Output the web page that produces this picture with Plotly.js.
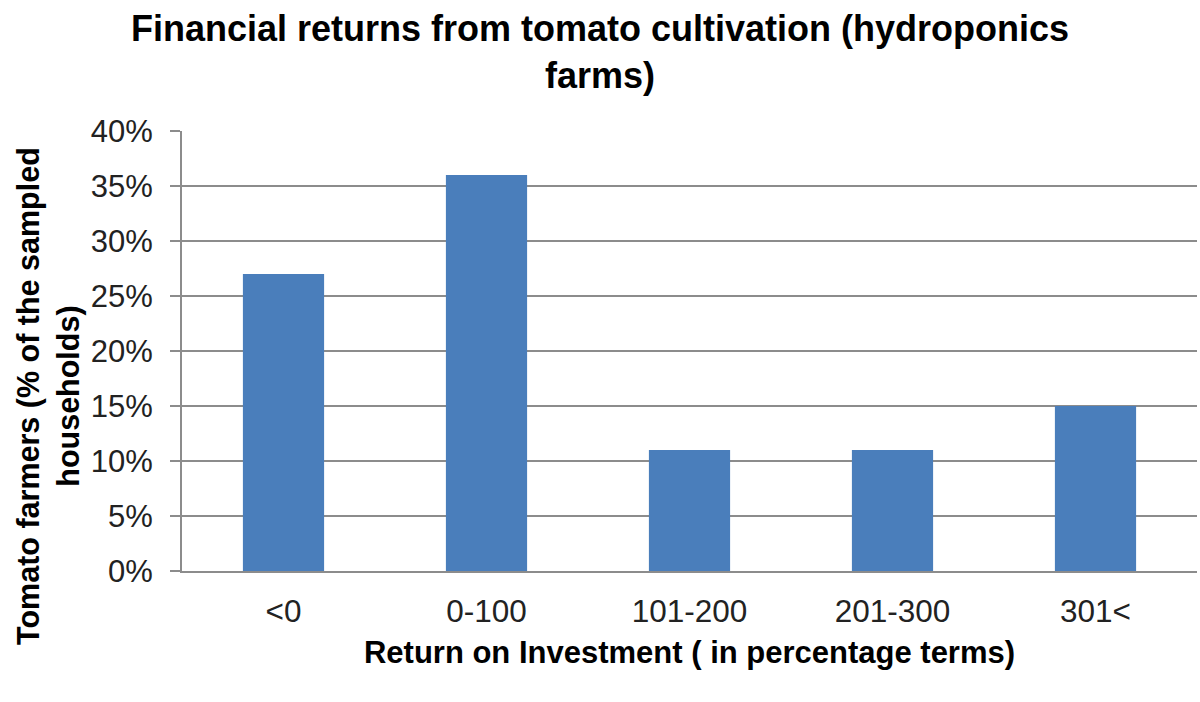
<!DOCTYPE html>
<html>
<head>
<meta charset="utf-8">
<script src="https://cdn.plot.ly/plotly-3.0.1.min.js"></script>
<style>
  html, body { margin: 0; padding: 0; background: #fff; }
  #chart { width: 1200px; height: 702px; }
</style>
</head>
<body>
<div id="chart"></div>
<script>
// Return-on-investment bands and share of sampled tomato households in each
const categories = ['<0', '0-100', '101-200', '201-300', '301<'];
const shares = [0.27, 0.36, 0.11, 0.11, 0.15];

const yTickVals = [0, 0.05, 0.10, 0.15, 0.20, 0.25, 0.30, 0.35, 0.40];

const chartTitle = 'Financial returns from tomato cultivation (hydroponics<br>farms)';
const xTitle = 'Return on Investment ( in percentage terms)';
const yTitle = 'Tomato farmers (% of the sampled<br>households)';

const gridGray = '#8c8c8c';
const font = 'Arial, "Liberation Sans", sans-serif';

const trace = {
  type: 'bar',
  x: categories,
  y: shares,
  marker: { color: '#4a7ebb' },
  hoverinfo: 'x+y'
};

const layout = {
  width: 1200,
  height: 702,
  paper_bgcolor: '#ffffff',
  plot_bgcolor: '#ffffff',
  margin: { l: 182, r: 3, t: 131, b: 131 },
  bargap: 0.6,
  showlegend: false,
  font: { family: font, color: '#222' },
  title: {
    text: chartTitle,
    font: { family: font, size: 36, color: '#000', weight: 'bold' },
    x: 0.5,
    xanchor: 'center',
    y: 0.941,
    yanchor: 'middle'
  },
  xaxis: {
    type: 'category',
    showline: true,
    linecolor: gridGray,
    linewidth: 2,
    ticks: '',
    ticklabelstandoff: 11,
    tickfont: { family: font, size: 31.5, color: '#222' },
    title: {
      text: xTitle,
      font: { family: font, size: 31, color: '#000', weight: 'bold' },
      standoff: 14
    }
  },
  yaxis: {
    range: [0, 0.4],
    tickvals: yTickVals,
    tickformat: '.0%',
    showgrid: true,
    gridcolor: gridGray,
    gridwidth: 2,
    zeroline: false,
    showline: true,
    linecolor: gridGray,
    linewidth: 2,
    ticks: 'outside',
    ticklen: 10,
    tickwidth: 2,
    tickcolor: gridGray,
    ticklabelstandoff: 11,
    tickfont: { family: font, size: 31, color: '#222' }
  },
  annotations: [{
    text: yTitle,
    xref: 'paper',
    yref: 'paper',
    x: -0.131,
    y: 0.398,
    xanchor: 'center',
    yanchor: 'middle',
    textangle: -90,
    showarrow: false,
    font: { family: font, size: 30.5, color: '#000', weight: 'bold' }
  }]
};

Plotly.newPlot('chart', [trace], layout, { displayModeBar: false, staticPlot: true });
</script>
</body>
</html>
